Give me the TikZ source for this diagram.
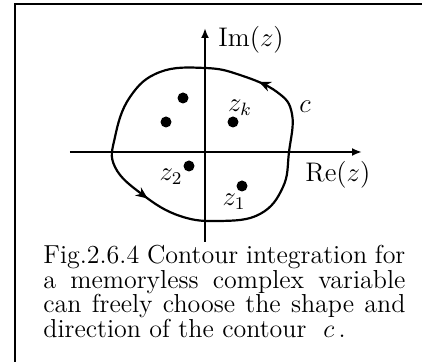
\RequirePackage{fix-cm}
\documentclass[tikz,border=0pt]{standalone}
\usetikzlibrary{arrows.meta,decorations.markings}

\newcommand{\planelab}[1]{\scalebox{1.12}{$#1$}}

\tikzset{
  axis/.style={line width=1.1pt,-{Latex[length=5pt,width=4pt]}},
  dot/.style={circle,fill,inner sep=0pt,minimum size=5.5pt},
  lab/.style={font=\fontsize{12}{14}\selectfont},
  contour/.style={line width=1.1pt,postaction={decorate},
    decoration={markings,
      mark=at position 0.09 with {\arrow{Stealth[length=6pt,width=5pt]}},
      mark=at position 0.575 with {\arrow{Stealth[length=6pt,width=5pt]}}}},
}

\begin{document}
\begin{tikzpicture}[x=0.5pt,y=0.5pt]
  \useasboundingbox (-205,-210) rectangle (217,152);

  % Frame, only its left and top sides are in view.
  \path[draw,line width=1.2pt] (-190,-215) |- (222,148);

  % Axes of the complex plane.
  \coordinate (o) at (0,0);
  \draw[axis] (-135,0) -- (157,0);
  \draw[axis] (0,-90) -- (0,124);
  \node[lab,anchor=west,inner sep=0pt] (im) at (13,112) {\planelab{\mathrm{Im}(z)}};
  \node[lab,anchor=west,inner sep=0pt] (re) at (100,-23) {\planelab{\mathrm{Re}(z)}};

  % Closed contour c, run counterclockwise.
  \draw[contour] plot[smooth cycle,tension=0.7] coordinates {
    (84,0) (87,38) (72,60) (35,77) (0,84) (-45,80) (-75,55)
    (-90,15) (-90,-15) (-62,-43) (-25,-64) (15,-69) (55,-62) (78,-35)};
  \node[lab] (c) at (100,45) {\planelab{c}};

  % Points inside the contour.
  \node[dot] (pa) at (-22,54) {};
  \node[dot] (pb) at (-39,30) {};
  \node[dot] (zk) at (28,30) {};
  \node[dot] (z2) at (-16,-14) {};
  \node[dot] (z1) at (37,-34) {};
  \node[lab] (zklab) at (35,44) {\planelab{z_k}};
  \node[lab] (z2lab) at (-34,-25) {\planelab{z_2}};
  \node[lab] (z1lab) at (29,-50) {\planelab{z_1}};

  % Caption.
  \node[anchor=north west,inner sep=0pt,text width=181pt,align=justify,
        font=\fontsize{13}{12.25}\selectfont] (cap) at (-162,-93)
    {\baselineskip=12.25pt
     Fig.2.6.4 Contour integration for\linebreak
     a memoryless complex variable\linebreak
     can freely choose the shape and\linebreak
     direction of the contour~ $c$\,.\par};
\end{tikzpicture}
\end{document}
